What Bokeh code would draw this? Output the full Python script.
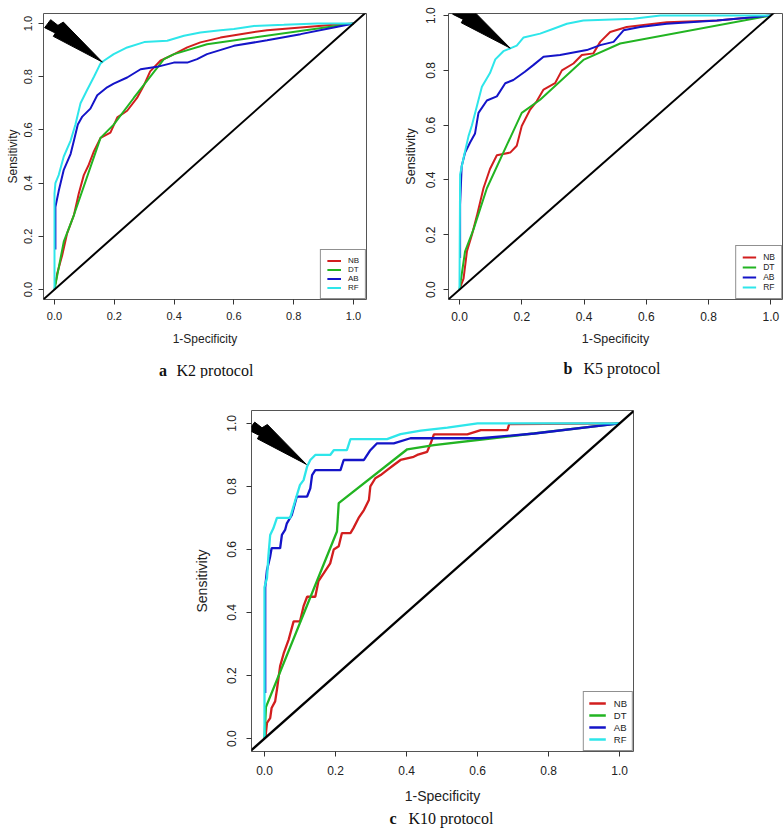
from bokeh.plotting import figure
from bokeh.models import Legend, LegendItem, Label, Spacer, Range1d, FixedTicker, NumeralTickFormatter
from bokeh.layouts import column, row
from bokeh.embed import file_html
from bokeh.resources import INLINE

# ---------------- data ----------------
TICKS = [0.0, 0.2, 0.4, 0.6, 0.8, 1.0]
MODELS = ["NB", "DT", "AB", "RF"]
COLORS = {"NB": "#D21E1E", "DT": "#22B422", "AB": "#1414C8", "RF": "#2EE6EA"}

# Panel a: K2 protocol
a_nb_x = [0.003, 0.009, 0.026, 0.042, 0.065, 0.081, 0.098, 0.115, 0.132, 0.154, 0.187, 0.21, 0.243,
          0.276, 0.30, 0.32, 0.354, 0.40, 0.444, 0.488, 0.555, 0.622, 0.711, 0.823, 0.934, 1.0]
a_nb_y = [0.02, 0.06, 0.13, 0.21, 0.28, 0.36, 0.43, 0.47, 0.52, 0.57, 0.59, 0.647, 0.672,
          0.72, 0.77, 0.82, 0.86, 0.885, 0.91, 0.929, 0.947, 0.96, 0.975, 0.985, 0.995, 1.0]
a_dt_x = [0.0, 0.031, 0.065, 0.154, 0.198, 0.265, 0.366, 0.40, 0.51, 1.0]
a_dt_y = [0.0, 0.18, 0.28, 0.57, 0.62, 0.72, 0.866, 0.885, 0.922, 1.0]
a_ab_x = [0.003, 0.003, 0.014, 0.031, 0.054, 0.065, 0.078, 0.093, 0.12, 0.143, 0.176, 0.198, 0.243,
          0.288, 0.343, 0.399, 0.444, 0.477, 0.51, 0.60, 0.711, 0.823, 0.934, 1.0]
a_ab_y = [0.15, 0.31, 0.37, 0.45, 0.51, 0.56, 0.62, 0.65, 0.68, 0.73, 0.76, 0.774, 0.797,
          0.828, 0.837, 0.853, 0.853, 0.866, 0.885, 0.916, 0.937, 0.96, 0.985, 1.0]
a_rf_x = [0.0, 0.0, 0.003, 0.014, 0.031, 0.054, 0.07, 0.087, 0.109, 0.132, 0.154, 0.165, 0.198,
          0.243, 0.30, 0.377, 0.433, 0.488, 0.555, 0.60, 0.667, 0.767, 0.878, 1.0]
a_rf_y = [0.0, 0.36, 0.40, 0.43, 0.50, 0.56, 0.62, 0.70, 0.75, 0.80, 0.85, 0.86, 0.885,
          0.91, 0.93, 0.935, 0.954, 0.966, 0.975, 0.979, 0.991, 0.995, 1.0, 1.0]

# Panel b: K5 protocol
b_nb_x = [0.002, 0.013, 0.024, 0.04, 0.056, 0.077, 0.098, 0.12, 0.163, 0.184, 0.20, 0.227, 0.248,
          0.27, 0.307, 0.329, 0.366, 0.393, 0.43, 0.452, 0.484, 0.537, 0.666, 0.827, 1.0]
b_nb_y = [0.007, 0.04, 0.14, 0.20, 0.27, 0.37, 0.44, 0.49, 0.50, 0.525, 0.597, 0.657, 0.687,
          0.73, 0.753, 0.80, 0.825, 0.856, 0.862, 0.904, 0.94, 0.958, 0.976, 0.982, 1.0]
b_dt_x = [0.0, 0.018, 0.045, 0.088, 0.20, 0.259, 0.398, 0.516, 1.0]
b_dt_y = [0.0, 0.14, 0.22, 0.37, 0.645, 0.693, 0.838, 0.898, 1.0]
b_ab_x = [0.002, 0.002, 0.007, 0.018, 0.034, 0.05, 0.061, 0.088, 0.12, 0.147, 0.173, 0.21, 0.238,
          0.27, 0.323, 0.409, 0.452, 0.495, 0.527, 0.58, 0.666, 0.827, 1.0]
b_ab_y = [0.115, 0.31, 0.45, 0.50, 0.537, 0.57, 0.645, 0.69, 0.705, 0.753, 0.765, 0.795, 0.82,
          0.85, 0.856, 0.874, 0.892, 0.904, 0.946, 0.958, 0.97, 0.982, 1.0]
b_rf_x = [0.0, 0.002, 0.013, 0.029, 0.04, 0.056, 0.072, 0.098, 0.115, 0.141, 0.163, 0.184, 0.206,
          0.259, 0.302, 0.345, 0.398, 0.559, 0.645, 1.0]
b_rf_y = [0.0, 0.42, 0.48, 0.56, 0.60, 0.67, 0.74, 0.79, 0.84, 0.87, 0.88, 0.89, 0.92,
          0.934, 0.952, 0.97, 0.982, 0.988, 1.0, 1.0]

# Panel c: K10 protocol
c_nb_x = [0.003, 0.007, 0.016, 0.02, 0.03, 0.035, 0.044, 0.054, 0.068, 0.082, 0.10, 0.11, 0.12,
          0.143, 0.152, 0.167, 0.185, 0.195, 0.209, 0.218, 0.242, 0.25, 0.265, 0.28, 0.294, 0.298,
          0.312, 0.327, 0.345, 0.364, 0.383, 0.42, 0.43, 0.458, 0.468, 0.477, 0.571, 0.609, 0.684,
          0.689, 1.0]
c_nb_y = [0.007, 0.05, 0.065, 0.097, 0.118, 0.155, 0.23, 0.27, 0.314, 0.372, 0.372, 0.42, 0.45,
          0.45, 0.50, 0.525, 0.556, 0.60, 0.61, 0.652, 0.652, 0.667, 0.70, 0.725, 0.757, 0.80,
          0.826, 0.836, 0.852, 0.868, 0.884, 0.894, 0.90, 0.91, 0.937, 0.965, 0.965, 0.979, 0.979,
          0.998, 1.0]
c_dt_x = [0.0, 0.004, 0.204, 0.209, 0.402, 0.477, 1.0]
c_dt_y = [0.0, 0.10, 0.657, 0.747, 0.918, 0.931, 1.0]
c_ab_x = [0.002, 0.002, 0.007, 0.016, 0.02, 0.044, 0.049, 0.058, 0.063, 0.072, 0.077, 0.091, 0.12,
          0.129, 0.134, 0.143, 0.214, 0.223, 0.28, 0.298, 0.317, 0.364, 0.411, 0.609, 0.76, 1.0]
c_ab_y = [0.145, 0.48, 0.535, 0.578, 0.604, 0.604, 0.646, 0.662, 0.683, 0.70, 0.71, 0.768, 0.768,
          0.794, 0.836, 0.852, 0.852, 0.884, 0.884, 0.915, 0.937, 0.937, 0.953, 0.953, 0.968, 1.0]
c_rf_x = [0.0, 0.0, 0.007, 0.011, 0.016, 0.025, 0.035, 0.072, 0.087, 0.10, 0.11, 0.12, 0.129,
          0.143, 0.185, 0.195, 0.232, 0.242, 0.345, 0.383, 0.44, 0.515, 0.60, 1.0]
c_rf_y = [0.0, 0.48, 0.51, 0.58, 0.646, 0.667, 0.70, 0.70, 0.757, 0.805, 0.82, 0.863, 0.884,
          0.90, 0.90, 0.915, 0.915, 0.95, 0.95, 0.966, 0.977, 0.987, 1.0, 1.0]

# panel captions
CAPTIONS = {"a": "K2 protocol", "b": "K5 protocol", "c": "K10 protocol"}

# arrow tips (data coords) pointing at the RF curve
a_tip = (0.160, 0.855)
b_tip = (0.163, 0.881)
c_tip = (0.118, 0.870)

# arrow outline in pixel offsets from the tip (x right, y down)
ARROW_PX = [(-57.7, -34.4), (-51.7, -42.4), (-44.4, -36.7), (-39.0, -40.0),
            (0.0, 0.0), (-49.0, -25.7), (-47.0, -29.0)]

SANS = "Liberation Sans"
SERIF = "Liberation Serif"


def make_panel(series, xr, yr, width, height, mb, tip, px_per, tick_fs, lab_fs,
               standoffs, leg, lw):
    p = figure(width=width, height=height, output_backend="svg", toolbar_location=None,
               title=None, x_range=Range1d(*xr), y_range=Range1d(*yr),
               min_border_left=mb[0], min_border_right=mb[1],
               min_border_top=mb[2], min_border_bottom=mb[3])
    p.background_fill_color = "white"
    p.border_fill_color = "white"
    p.outline_line_color = "#555555"
    p.outline_line_width = 1
    p.xgrid.visible = False
    p.ygrid.visible = False
    for ax in (p.xaxis[0], p.yaxis[0]):
        ax.ticker = FixedTicker(ticks=TICKS)
        ax.formatter = NumeralTickFormatter(format="0.0")
        ax.axis_line_color = None
        ax.major_tick_line_color = "#333333"
        ax.major_tick_in = 0
        ax.major_tick_out = 5
        ax.minor_tick_line_color = None
        ax.major_label_text_font = SANS
        ax.major_label_text_font_size = tick_fs
        ax.major_label_text_color = "#222222"
        ax.axis_label_text_font = SANS
        ax.axis_label_text_font_size = lab_fs
        ax.axis_label_text_font_style = "normal"
        ax.axis_label_text_color = "#222222"
    p.xaxis.axis_label = "1-Specificity"
    p.yaxis.axis_label = "Sensitivity"
    p.yaxis.major_label_orientation = "vertical"
    p.xaxis.major_label_standoff = standoffs[0]
    p.xaxis.axis_label_standoff = standoffs[1]
    p.yaxis.major_label_standoff = standoffs[2]
    p.yaxis.axis_label_standoff = standoffs[3]

    rends = {}
    for m in MODELS:
        xs, ys = series[m]
        rends[m] = p.line(xs, ys, line_color=COLORS[m], line_width=lw)
    # chance diagonal
    p.line([-0.2, 1.2], [-0.2, 1.2], line_color="black", line_width=lw)

    # arrow
    sx, sy = px_per
    ax_ = [tip[0] + dx / sx for dx, dy in ARROW_PX]
    ay_ = [tip[1] - dy / sy for dx, dy in ARROW_PX]
    p.patch(ax_, ay_, fill_color="black", line_color="black", line_width=1)

    legend = Legend(items=[LegendItem(label=m, renderers=[rends[m]]) for m in MODELS],
                    location="bottom_right", margin=0, padding=leg["padding"], spacing=0,
                    glyph_width=leg["gw"], glyph_height=leg["gh"], label_height=leg["gh"],
                    label_width=8, label_standoff=leg["standoff"], label_text_font=SANS,
                    label_text_font_size=leg["fs"], label_text_color="#222222",
                    border_line_color="#222222", border_line_width=1,
                    background_fill_color="white", background_fill_alpha=1.0)
    p.add_layout(legend)
    return p


def make_caption(width, height, letter, letter_x, text_x, cy):
    c = figure(width=width, height=height, output_backend="svg", toolbar_location=None,
               title=None, x_range=Range1d(0, width), y_range=Range1d(0, height),
               min_border_left=0, min_border_right=0, min_border_top=0, min_border_bottom=0)
    c.axis.visible = False
    c.grid.visible = False
    c.outline_line_color = None
    c.background_fill_color = "white"
    c.border_fill_color = "white"
    c.add_layout(Label(x=letter_x, y=cy, text=letter, text_font=SERIF, text_font_style="bold",
                       text_font_size="16px", text_align="center", text_baseline="middle",
                       text_color="#111111"))
    c.add_layout(Label(x=text_x, y=cy, text=CAPTIONS[letter], text_font=SERIF,
                       text_font_size="16px", text_align="left", text_baseline="middle",
                       text_color="#111111"))
    return c


pa = make_panel({"NB": (a_nb_x, a_nb_y), "DT": (a_dt_x, a_dt_y),
                 "AB": (a_ab_x, a_ab_y), "RF": (a_rf_x, a_rf_y)},
                xr=(-0.0368, 1.0435), yr=(-0.0376, 1.0376), width=400, height=356,
                mb=(43, 34, 13, 57), tip=a_tip, px_per=(299.0, 266.0),
                tick_fs="11px", lab_fs="12px", standoffs=(7, 9, 6, 2),
                leg=dict(padding=6, gw=14, gh=9, standoff=7, fs="8px"), lw=2)

pb = make_panel({"NB": (b_nb_x, b_nb_y), "DT": (b_dt_x, b_dt_y),
                 "AB": (b_ab_x, b_ab_y), "RF": (b_rf_x, b_rf_y)},
                xr=(-0.0353, 1.0376), yr=(-0.0361, 1.0075), width=384, height=356,
                mb=(48, 2, 1, 57), tip=b_tip, px_per=(311.3, 277.0),
                tick_fs="12px", lab_fs="12.5px", standoffs=(7, 8, 8, 6),
                leg=dict(padding=6, gw=14, gh=10, standoff=7, fs="8.5px"), lw=2)

pc = make_panel({"NB": (c_nb_x, c_nb_y), "DT": (c_dt_x, c_dt_y),
                 "AB": (c_ab_x, c_ab_y), "RF": (c_rf_x, c_rf_y)},
                xr=(-0.0366, 1.039), yr=(-0.041, 1.041), width=460, height=428,
                mb=(61, 17, 32, 54), tip=c_tip, px_per=(355.0, 316.0),
                tick_fs="12px", lab_fs="14px", standoffs=(9, 10, 10, 15),
                leg=dict(padding=5, gw=17, gh=12, standoff=8, fs="9.5px"), lw=2.3)

cap_a = make_caption(400, 22, "a", 162.5, 176, 8)
cap_b = make_caption(384, 22, "b", 167.5, 183, 10)
cap_c = make_caption(460, 22, "c", 202.5, 218, 10)

layout = column(row(pa, pb),
                row(cap_a, cap_b),
                row(Spacer(width=190, height=428), pc),
                row(Spacer(width=190, height=22), cap_c))

open("out.html", "w").write(file_html(layout, INLINE))
